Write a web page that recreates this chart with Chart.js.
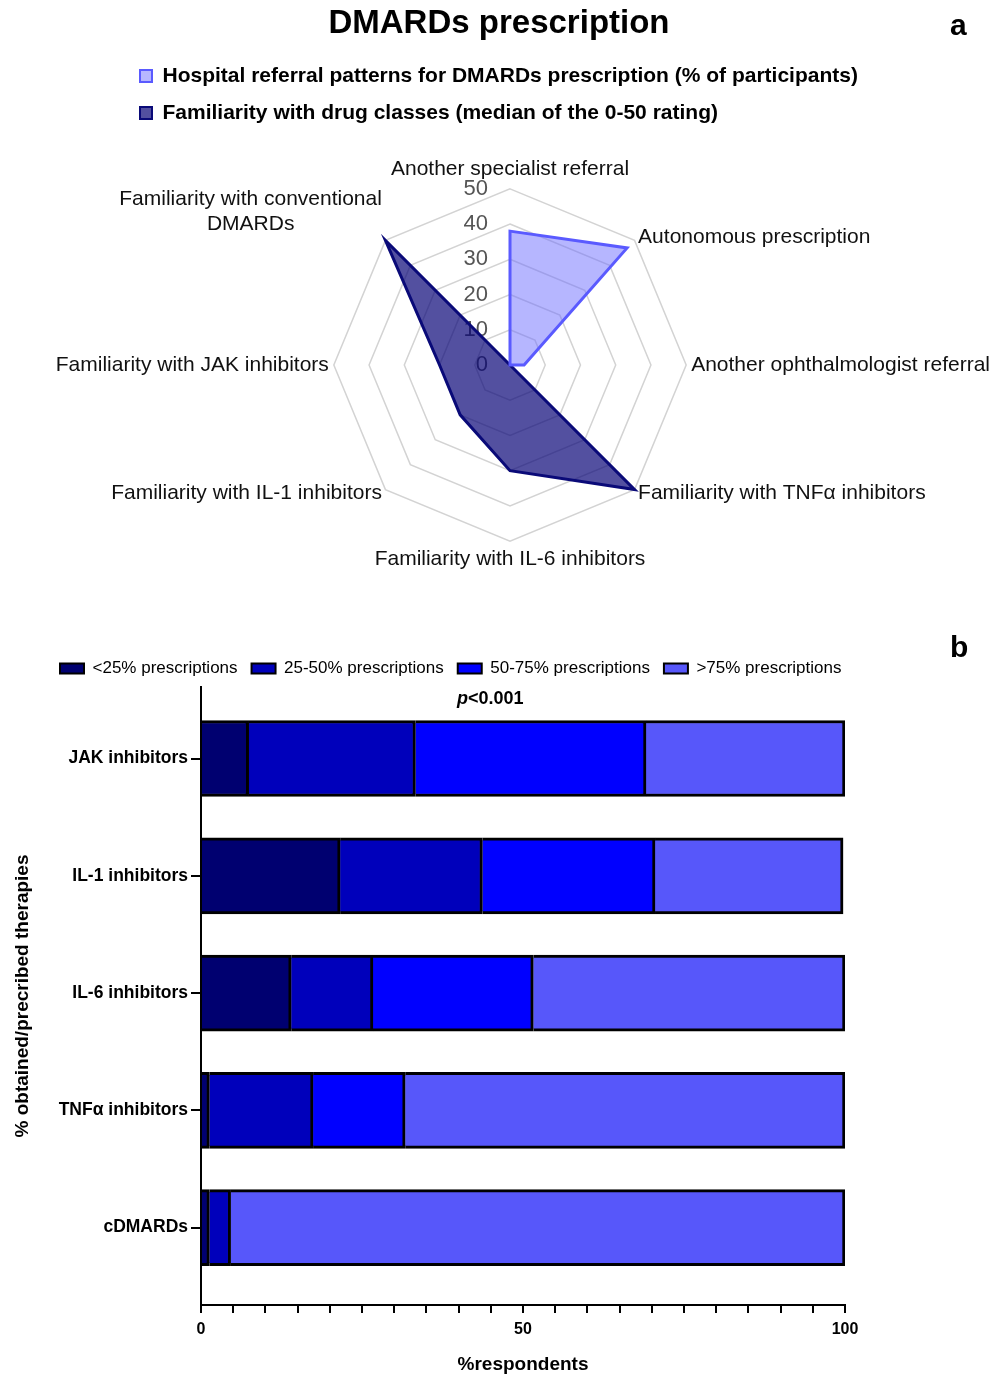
<!DOCTYPE html>
<html>
<head>
<meta charset="utf-8">
<script src="https://cdn.jsdelivr.net/npm/chart.js@4.4.1/dist/chart.umd.min.js"></script>
<style>
  html, body { margin: 0; padding: 0; width: 998px; height: 1378px; overflow: hidden; background: #fff; }
  body { position: relative; font-family: "Liberation Sans", Arial, sans-serif; }
  .txt { position: absolute; color: #000; font-weight: bold; white-space: nowrap; }
</style>
</head>
<body>
<div id="wrapA" style="position:absolute;left:0;top:0;width:1004px;height:600px;"><canvas id="radar"></canvas></div>
<div id="wrapB" style="position:absolute;left:0;top:600px;width:998px;height:778px;"><canvas id="bars"></canvas></div>
<div class="txt" style="left:0;width:998px;top:5px;text-align:center;font-size:33px;line-height:33px;">DMARDs prescription</div>
<div class="txt" style="left:950px;top:10px;font-size:30px;line-height:30px;">a</div>
<div class="txt" style="left:950px;top:632px;font-size:30px;line-height:30px;">b</div>
<div class="txt" style="left:457px;top:689px;font-size:18px;line-height:18px;"><i>p</i>&lt;0.001</div>
<script>
const FONT = '"Liberation Sans", Arial, sans-serif';

// ---------- Panel a: radar ----------
const radarLabels = [
  'Another specialist referral',
  'Autonomous prescription',
  'Another ophthalmologist referral',
  'Familiarity with TNFα inhibitors',
  'Familiarity with IL-6 inhibitors',
  'Familiarity with IL-1 inhibitors',
  'Familiarity with JAK inhibitors',
  ['Familiarity with conventional', 'DMARDs               ']
];
const referralLabel = 'Hospital referral patterns for DMARDs prescription (% of participants)';
const familiarityLabel = 'Familiarity with drug classes (median of the 0-50 rating)';
const referralValues = [38, 47, 4, 0, 0, 0, 0, 0];
const familiarityValues = [0, 0, 0, 50, 30, 20, 20, 50];
const radarMin = 0;
const radarMax = 50;
const radarStep = 10;

// ---------- Panel b: stacked bars ----------
const therapyCategories = ['JAK inhibitors', 'IL-1 inhibitors', 'IL-6 inhibitors', 'TNFα inhibitors', 'cDMARDs'];
const bandLabels = ['<25% prescriptions', '25-50% prescriptions', '50-75% prescriptions', '>75% prescriptions'];
const below25 = [7.4, 21.6, 14.0, 1.3, 1.3];
const from25to50 = [25.9, 22.1, 12.7, 16.1, 3.3];
const from50to75 = [35.8, 26.8, 24.9, 14.3, 0];
const above75 = [30.9, 29.2, 48.4, 68.3, 95.4];
const xTicks = [0, 5, 10, 15, 20, 25, 30, 35, 40, 45, 50, 55, 60, 65, 70, 75, 80, 85, 90, 95, 100];
const xLabeledTicks = [0, 50, 100];

const bandColors = ['#000070', '#0000bb', '#0000ff', '#5757fa'];

// shift a legend horizontally (left-aligned legend starting at a given x)
const legendShift = {
  id: 'legendShift',
  afterLayout(chart, args, opts) {
    if (chart.legend && opts && typeof opts.left === 'number') {
      const w = chart.legend.width;
      chart.legend.left = opts.left;
      chart.legend.right = opts.left + w;
    }
  }
};

// radial tick labels drawn left of the vertical axis (incl. 0)
const radarTickLabels = {
  id: 'radarTickLabels',
  beforeDatasetsDraw(chart) {
    const s = chart.scales.r;
    const ctx = chart.ctx;
    ctx.save();
    ctx.font = '22px ' + FONT;
    ctx.fillStyle = '#555';
    ctx.textAlign = 'right';
    ctx.textBaseline = 'middle';
    s.ticks.forEach(t => {
      const d = s.getDistanceFromCenterForValue(t.value);
      ctx.fillText(String(t.value), s.xCenter - 22, s.yCenter - d);
    });
    ctx.restore();
  }
};

const defaultGen = Chart.defaults.plugins.legend.labels.generateLabels;

new Chart(document.getElementById('radar'), {
  type: 'radar',
  data: {
    labels: radarLabels,
    datasets: [
      {
        label: referralLabel,
        data: referralValues,
        backgroundColor: 'rgba(110,110,255,0.5)',
        borderColor: '#5a5aff',
        borderWidth: 3,
        pointRadius: 0
      },
      {
        label: familiarityLabel,
        data: familiarityValues,
        backgroundColor: 'rgba(10,5,120,0.7)',
        borderColor: '#0a0a78',
        borderWidth: 3,
        pointRadius: 0
      }
    ]
  },
  options: {
    responsive: true,
    maintainAspectRatio: false,
    animation: false,
    layout: { padding: { left: 43, right: 1, top: 49.5, bottom: 3.5 } },
    elements: { line: { tension: 0 } },
    scales: {
      r: {
        min: radarMin,
        max: radarMax,
        ticks: { display: false, stepSize: radarStep },
        grid: { color: '#d3d3d3', lineWidth: 1.5 },
        angleLines: { display: false },
        pointLabels: {
          color: '#111',
          padding: (c) => (c.index === 0 ? 7 : 5),
          font: (c) => ({
            family: FONT,
            size: 21,
            lineHeight: [1, 3, 5].includes(c.index) ? 0.01 : 1.2
          })
        }
      }
    },
    plugins: {
      tooltip: { enabled: false },
      legend: {
        position: 'top',
        align: 'start',
        labels: {
          color: '#000',
          font: { family: FONT, size: 21, weight: 'bold' },
          boxWidth: 12,
          boxHeight: 12,
          padding: 16,
          generateLabels: (chart) => defaultGen(chart).map(l => Object.assign(l, { lineWidth: 2 }))
        }
      },
      legendShift: { left: 124 }
    }
  },
  plugins: [legendShift, radarTickLabels]
});

const bandSeries = [below25, from25to50, from50to75, above75];

new Chart(document.getElementById('bars'), {
  type: 'bar',
  data: {
    datasets: bandLabels.map((lab, k) => ({
      label: lab,
      data: bandSeries[k].map((v, i) => ({ x: v, y: i })),
      backgroundColor: bandColors[k],
      borderColor: '#000',
      borderWidth: 3,
      barThickness: 76
    }))
  },
  options: {
    indexAxis: 'y',
    responsive: true,
    maintainAspectRatio: false,
    animation: false,
    layout: { padding: { left: 0, right: 153, top: 46, bottom: 0 } },
    scales: {
      x: {
        type: 'linear',
        position: 'bottom',
        stacked: true,
        min: 0,
        max: 100,
        afterBuildTicks: (s) => { s.ticks = xTicks.map(v => ({ value: v })); },
        afterFit: (s) => { s.height = 73; },
        ticks: {
          autoSkip: false,
          maxRotation: 0,
          padding: 7,
          color: '#000',
          font: { family: FONT, size: 16, weight: 'bold' },
          callback: (v) => (xLabeledTicks.includes(v) ? String(v) : '')
        },
        grid: { drawOnChartArea: false, tickLength: 8, color: '#000', lineWidth: 2 },
        border: { color: '#000', width: 2 },
        title: {
          display: true,
          text: '%respondents',
          color: '#000',
          font: { family: FONT, size: 19, weight: 'bold' },
          padding: { top: 0, bottom: 2 }
        }
      },
      y: {
        type: 'linear',
        stacked: true,
        reverse: true,
        offset: false,
        min: -0.61,
        max: 4.66,
        afterBuildTicks: (s) => { s.ticks = therapyCategories.map((_, i) => ({ value: i })); },
        afterFit: (s) => { s.width = 201; },
        ticks: {
          autoSkip: false,
          padding: 3,
          color: '#000',
          font: { family: FONT, size: 17.5, weight: 'bold' },
          callback: (v) => therapyCategories[Math.round(v)]
        },
        grid: { offset: false, drawOnChartArea: false, tickLength: 10, color: '#000', lineWidth: 2 },
        border: { color: '#000', width: 2 },
        title: {
          display: true,
          text: '% obtained/precribed therapies',
          color: '#000',
          font: { family: FONT, size: 19, weight: 'bold' },
          padding: { top: 11, bottom: 0 }
        }
      }
    },
    plugins: {
      tooltip: { enabled: false },
      legend: {
        position: 'top',
        align: 'start',
        labels: {
          color: '#000',
          font: { family: FONT, size: 17 },
          boxWidth: 24,
          boxHeight: 10,
          padding: 14,
          generateLabels: (chart) => defaultGen(chart).map(l => Object.assign(l, { lineWidth: 2 }))
        }
      },
      legendShift: { left: 46 }
    }
  },
  plugins: [legendShift]
});
</script>
</body>
</html>
